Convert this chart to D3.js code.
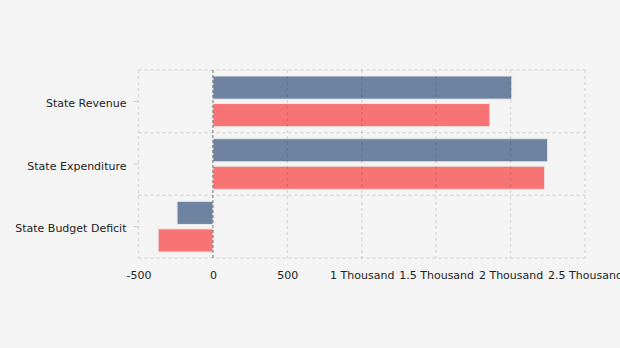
<!DOCTYPE html>
<html lang="en">
<head>
<meta charset="UTF-8">
<title>State Budget</title>
<script src="https://d3js.org/d3.v7.min.js"></script>
<style>
    body { margin: 0; background: #f4f4f4; }
    svg { display: block; }
    .tick text { fill: #222; font-size: 11px; font-family: "DejaVu Sans", Verdana, sans-serif; }
</style>
</head>
<body>
<div id="chart"></div>
<script>
// categories and the two series (same order)
const categories = ["State Revenue", "State Expenditure", "State Budget Deficit"];
const seriesNames = ["Plan", "Actual"];
const planValues = [2008, 2249, -241];
const actualValues = [1861, 2229, -368];
const xTicks = [-500, 0, 500, 1000, 1500, 2000, 2500];
const colors = ["#6e839f", "#f87373"];

const W = 620, H = 348;
const margin = { top: 70, right: 35, bottom: 90, left: 138.5 };
const width = W - margin.left - margin.right;
const height = H - margin.top - margin.bottom;

const svg = d3.select("#chart").append("svg")
    .attr("width", W).attr("height", H);
const g = svg.append("g").attr("transform", `translate(${margin.left},${margin.top})`);

const x = d3.scaleLinear().domain([-500, 2500]).range([0, width]);
const y0 = d3.scaleBand().domain(categories).range([0, height]);
const y1 = d3.scaleBand().domain(seriesNames)
    .range([6, y0.bandwidth() - 6]).paddingInner(0.16);

const rows = categories.map((c, i) => ({
    cat: c,
    vals: [
        { s: seriesNames[0], v: planValues[i] },
        { s: seriesNames[1], v: actualValues[i] }
    ]
}));

// bars
g.selectAll("g.row").data(rows).enter().append("g")
    .attr("class", "row")
    .attr("transform", d => `translate(0,${y0(d.cat)})`)
    .selectAll("rect").data(d => d.vals).enter().append("rect")
    .attr("x", d => x(Math.min(0, d.v)))
    .attr("width", d => Math.abs(x(d.v) - x(0)))
    .attr("y", d => y1(d.s))
    .attr("height", y1.bandwidth())
    .attr("fill", (d, i) => colors[i])
    .attr("stroke", "#e9e9e9")
    .attr("stroke-width", 1);

// dotted grid on top of bars
const grid = g.append("g")
    .attr("fill", "none")
    .attr("stroke", "rgba(0,0,0,0.1)")
    .attr("stroke-width", 1.5)
    .attr("stroke-dasharray", "3,3");
grid.selectAll("line.v").data(xTicks.filter(t => t !== 0)).enter().append("line")
    .attr("x1", d => x(d)).attr("x2", d => x(d))
    .attr("y1", 0).attr("y2", height);
grid.selectAll("line.h").data([0, ...categories.map(c => y0(c) + y0.bandwidth())]).enter().append("line")
    .attr("x1", 0).attr("x2", width)
    .attr("y1", d => d).attr("y2", d => d);

// zero line
g.append("line")
    .attr("x1", x(0)).attr("x2", x(0))
    .attr("y1", 0).attr("y2", height)
    .attr("stroke", "rgba(0,0,0,0.35)")
    .attr("stroke-width", 1.5)
    .attr("stroke-dasharray", "3,2");

// axes
const fmt = v => Math.abs(v) >= 1000 ? (v / 1000) + " Thousand" : String(v);

const xAxis = g.append("g")
    .attr("transform", `translate(0,${height})`)
    .call(d3.axisBottom(x).tickValues(xTicks).tickFormat(fmt).tickSize(0).tickPadding(13));
xAxis.select(".domain").remove();

const yAxis = g.append("g")
    .call(d3.axisLeft(y0).tickSize(5).tickPadding(7));
yAxis.select(".domain").remove();
yAxis.selectAll(".tick line").attr("stroke", "#ccc");
yAxis.selectAll(".tick text").attr("dy", "0.5em");
</script>
</body>
</html>
